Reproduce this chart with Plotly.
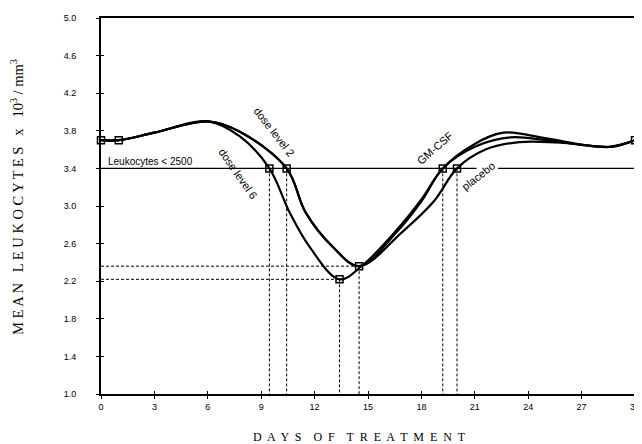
import plotly.graph_objects as go

# ---- data ----
days_dose6 = [0, 1, 3, 6, 7.8, 9.46, 10.6, 11.7, 13.4, 14.7, 16.5, 18.0, 19.2, 21.0, 22.6, 25.0, 27.5, 28.7, 30]
vals_dose6 = [3.70, 3.70, 3.78, 3.90, 3.74, 3.40, 2.93, 2.57, 2.22, 2.37, 2.72, 3.07, 3.40, 3.66, 3.78, 3.72, 3.64, 3.63, 3.70]

days_dose2 = [0, 1, 3, 6, 7.8, 10.43, 11.5, 13.0, 14.5, 16.6, 18.0, 19.2, 21.0, 23.0, 25.0, 27.5, 28.7, 30]
vals_dose2 = [3.70, 3.70, 3.78, 3.90, 3.79, 3.40, 2.93, 2.57, 2.36, 2.72, 3.05, 3.40, 3.63, 3.73, 3.70, 3.64, 3.63, 3.70]

days_placebo = [0, 1, 3, 6, 7.8, 10.43, 11.5, 13.0, 14.5, 16.9, 18.7, 20.0, 21.6, 23.5, 26.0, 28.5, 30]
vals_placebo = [3.70, 3.70, 3.78, 3.90, 3.79, 3.40, 2.93, 2.57, 2.36, 2.72, 3.05, 3.40, 3.60, 3.68, 3.67, 3.63, 3.70]

# marked points (squares)
key_days = [0, 1, 9.46, 10.43, 13.4, 14.5, 19.2, 20.0, 30]
key_vals = [3.70, 3.70, 3.40, 3.40, 2.22, 2.36, 3.40, 3.40, 3.70]

threshold = 3.4
threshold_gap = [21.1, 22.3]
x_ticks = list(range(0, 31, 3))
y_ticks = [1.0, 1.4, 1.8, 2.2, 2.6, 3.0, 3.4, 3.8, 4.2, 4.6, 5.0]

XR = [0, 30]
YR = [1.0, 5.0]

fig = go.Figure()

# threshold line (with gap for the "placebo" label)
fig.add_trace(go.Scatter(x=[XR[0], threshold_gap[0], None, threshold_gap[1], XR[1]],
                         y=[threshold, threshold, None, threshold, threshold],
                         mode="lines", line=dict(color="black", width=1.2),
                         hoverinfo="skip", showlegend=False))

# dashed drop lines
dx, dy = [], []
for d, v in zip(key_days, key_vals):
    if 1 < d < 30:
        dx += [d, d, None]
        dy += [v, YR[0], None]
        if v < threshold:
            dx += [XR[0], d, None]
            dy += [v, v, None]
fig.add_trace(go.Scatter(x=dx, y=dy, mode="lines",
                         line=dict(color="black", width=1, dash="3px,2px"),
                         hoverinfo="skip", showlegend=False))

for xs, ys in [(days_placebo, vals_placebo), (days_dose2, vals_dose2), (days_dose6, vals_dose6)]:
    fig.add_trace(go.Scatter(x=xs, y=ys, mode="lines",
                             line=dict(color="black", width=2.2, shape="spline", smoothing=1.0),
                             showlegend=False))

fig.add_trace(go.Scatter(x=key_days, y=key_vals, mode="markers",
                         marker=dict(symbol="square-open", size=7, color="black",
                                     line=dict(width=1.5, color="black")),
                         cliponaxis=False, showlegend=False))

# invisible trace for overlay axes (inner tick halves)
fig.add_trace(go.Scatter(x=[0], y=[1], xaxis="x2", yaxis="y2", mode="markers",
                         marker=dict(opacity=0), showlegend=False, hoverinfo="skip"))

tickfont = dict(family="Liberation Sans, Arial", size=9, color="black")
fig.update_layout(
    width=634, height=436,
    margin=dict(l=93, r=7, t=10, b=50),
    paper_bgcolor="white", plot_bgcolor="white",
    xaxis=dict(range=XR, tickvals=x_ticks, ticktext=[str(t) for t in x_ticks],
               ticks="outside", ticklen=3, tickwidth=1, tickcolor="black",
               showline=True, linecolor="black", linewidth=2, mirror=True,
               showgrid=False, zeroline=False, tickfont=tickfont, automargin=False,
               ticklabeloverflow="allow"),
    yaxis=dict(range=YR, tickvals=y_ticks, ticktext=[f"{t:.1f}" for t in y_ticks],
               ticks="outside", ticklen=3, tickwidth=1, tickcolor="black",
               showline=True, linecolor="black", linewidth=2, mirror=True,
               showgrid=False, zeroline=False, tickfont=tickfont, ticklabelstandoff=18,
               automargin=False, ticklabeloverflow="allow"),
    xaxis2=dict(range=XR, overlaying="x", anchor="y2", side="bottom", tickvals=x_ticks,
                ticks="inside", ticklen=3, tickcolor="black", showticklabels=False,
                showline=False, showgrid=False, zeroline=False, automargin=False),
    yaxis2=dict(range=YR, overlaying="y", anchor="x2", side="left", tickvals=y_ticks,
                ticks="inside", ticklen=3, tickcolor="black", showticklabels=False,
                showline=False, showgrid=False, zeroline=False, automargin=False),
)

# right-hand frame line at day 30
fig.add_shape(type="line", xref="x", yref="paper", x0=XR[1], x1=XR[1], y0=0, y1=1,
              line=dict(color="black", width=2), layer="above")

serif = dict(family="Liberation Serif, Times New Roman", size=12, color="black")
fig.add_annotation(xref="paper", yref="paper", x=0.5, y=0, xshift=-9, yshift=-43,
                   text="D  A  Y  S    O  F    T  R  E  A  T  M  E  N  T", showarrow=False,
                   xanchor="center", yanchor="middle", font=serif)
fig.add_annotation(xref="paper", yref="paper", x=0, y=0.524, xshift=-84,
                   text="M E A N   L E U K O C Y T E S   x   10<sup>3</sup> / mm<sup>3</sup>",
                   showarrow=False, textangle=-90, xanchor="center", yanchor="middle",
                   font=dict(family="Liberation Serif, Times New Roman", size=14.5, color="black"))

lab = dict(family="Liberation Sans, Arial", size=11, color="black")
fig.add_annotation(x=0.3, y=threshold, text="Leukocytes < 2500", showarrow=False,
                   xanchor="left", yanchor="bottom", yshift=-1,
                   font=dict(family="Liberation Sans, Arial", size=10, color="black"))
fig.add_annotation(x=9.74, y=3.79, text="dose level 2", showarrow=False, textangle=52, font=lab)
fig.add_annotation(x=7.72, y=3.345, text="dose level 6", showarrow=False, textangle=55, font=lab)
fig.add_annotation(x=18.75, y=3.62, text="GM-CSF", showarrow=False, textangle=-41, font=lab)
fig.add_annotation(x=21.2, y=3.32, text="placebo", showarrow=False, textangle=-38, font=lab)

fig.write_html("out.html")
